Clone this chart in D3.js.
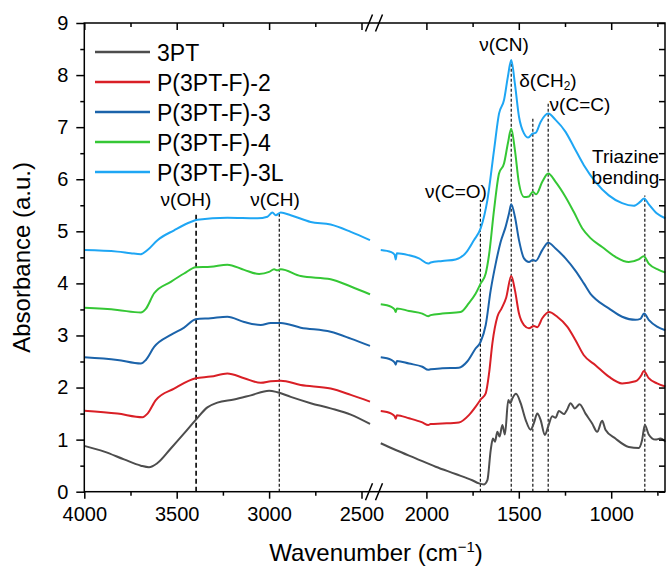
<!DOCTYPE html>
<html>
<head>
<meta charset="utf-8">
<script src="https://cdn.jsdelivr.net/npm/d3@7"></script>
<style>
  html, body { margin: 0; padding: 0; background: #fff; }
  svg { display: block; font-family: "Liberation Sans", Arial, sans-serif; }
</style>
</head>
<body>
<svg id="chart" width="667" height="566"></svg>
<script>
// ---------------- data (wavenumber cm-1, absorbance a.u.) ----------------
const seriesNames = ["3PT", "P(3PT-F)-2", "P(3PT-F)-3", "P(3PT-F)-4", "P(3PT-F)-3L"];
const seriesColors = ["#4d4d4d", "#d91f26", "#1b63aa", "#35c735", "#1ea6f4"];

const s3PT = [[4000,0.88],[3892,0.77],[3785,0.62],[3694,0.50],[3650,0.47],[3604,0.55],[3532,0.83],[3460,1.12],[3397,1.38],[3334,1.62],[3280,1.71],[3190,1.77],[3099,1.85],[3000,1.94],[2955,1.91],[2883,1.82],[2775,1.70],[2667,1.60],[2558,1.48],[2454,1.30],
  [2247,0.93],[2166,0.80],[2058,0.64],[1950,0.48],[1842,0.34],[1752,0.22],[1716,0.16],[1688,0.14],[1670,0.22],[1652,0.80],[1640,1.02],[1629,0.96],[1616,1.15],[1604,1.06],[1589,1.28],[1575,1.10],[1557,1.76],[1546,1.70],[1535,1.79],[1515,1.88],[1490,1.70],[1463,1.38],[1436,1.19],[1418,1.32],[1400,1.50],[1382,1.38],[1359,1.09],[1341,1.25],[1319,1.45],[1301,1.42],[1283,1.55],[1256,1.49],[1238,1.58],[1220,1.70],[1197,1.60],[1171,1.68],[1139,1.50],[1103,1.31],[1076,1.15],[1049,1.36],[1031,1.19],[977,1.02],[905,0.86],[851,0.84],[833,0.99],[818,1.28],[797,1.10],[761,1.00],[734,1.02],[707,0.96]];

const sF2 = [[4000,1.555],[3821,1.50],[3685,1.43],[3658,1.50],[3613,1.76],[3514,1.98],[3397,2.18],[3316,2.21],[3226,2.27],[3135,2.18],[3045,2.09],[2991,2.12],[2937,2.13],[2829,2.05],[2667,1.98],[2558,1.86],[2454,1.73],
  [2247,1.55],[2190,1.50],[2172,1.45],[2166,1.40],[2160,1.47],[2094,1.41],[2022,1.33],[1990,1.28],[1977,1.30],[1914,1.31],[1824,1.33],[1770,1.47],[1734,1.63],[1706,1.77],[1679,1.89],[1661,2.27],[1643,2.85],[1616,3.36],[1593,3.52],[1568,3.73],[1541,4.14],[1521,3.87],[1499,3.42],[1472,3.20],[1445,3.14],[1418,3.18],[1400,3.16],[1373,3.33],[1337,3.45],[1292,3.36],[1238,3.17],[1193,2.91],[1148,2.62],[1085,2.43],[1013,2.21],[941,2.08],[869,2.12],[836,2.24],[824,2.32],[797,2.18],[752,2.08],[707,2.02]];

const sF3 = [[4000,2.58],[3821,2.53],[3694,2.46],[3667,2.53],[3622,2.78],[3532,3.01],[3460,3.15],[3397,3.31],[3316,3.33],[3226,3.36],[3135,3.26],[3045,3.20],[2991,3.24],[2937,3.24],[2829,3.15],[2667,3.07],[2558,2.94],[2454,2.80],
  [2247,2.58],[2190,2.53],[2172,2.48],[2166,2.44],[2160,2.51],[2094,2.46],[2022,2.40],[1990,2.34],[1977,2.35],[1914,2.37],[1824,2.38],[1779,2.50],[1734,2.75],[1706,2.88],[1679,3.20],[1652,3.87],[1625,4.38],[1598,4.80],[1571,5.09],[1553,5.34],[1541,5.52],[1521,5.28],[1499,4.83],[1472,4.48],[1445,4.41],[1424,4.45],[1409,4.43],[1373,4.64],[1341,4.78],[1301,4.67],[1247,4.48],[1193,4.24],[1148,4.00],[1112,3.80],[1085,3.70],[1013,3.52],[941,3.36],[869,3.30],[842,3.32],[822,3.42],[797,3.30],[752,3.17],[707,3.10]];

const sF4 = [[4000,3.53],[3821,3.49],[3694,3.44],[3667,3.51],[3622,3.81],[3532,4.03],[3460,4.19],[3397,4.31],[3316,4.32],[3226,4.36],[3135,4.26],[3054,4.18],[3000,4.22],[2973,4.27],[2955,4.25],[2937,4.27],[2829,4.14],[2667,4.08],[2558,3.94],[2454,3.79],
  [2247,3.60],[2190,3.55],[2172,3.50],[2166,3.45],[2160,3.52],[2094,3.47],[2022,3.42],[1990,3.37],[1977,3.39],[1914,3.42],[1815,3.45],[1770,3.62],[1734,3.80],[1706,4.00],[1679,4.19],[1661,4.55],[1634,5.41],[1607,6.11],[1580,6.30],[1559,6.69],[1541,6.97],[1521,6.56],[1499,5.92],[1472,5.66],[1445,5.67],[1424,5.76],[1406,5.71],[1373,5.95],[1341,6.11],[1301,5.95],[1247,5.66],[1202,5.37],[1157,5.06],[1112,4.87],[1049,4.70],[977,4.51],[905,4.41],[851,4.46],[824,4.52],[797,4.38],[743,4.26],[707,4.21]];

const sF3L = [[4000,4.64],[3821,4.61],[3749,4.58],[3694,4.56],[3658,4.64],[3604,4.83],[3514,5.02],[3424,5.18],[3388,5.22],[3226,5.26],[3063,5.25],[3009,5.28],[2982,5.36],[2964,5.31],[2937,5.36],[2883,5.31],[2775,5.18],[2667,5.13],[2558,4.99],[2454,4.83],
  [2247,4.64],[2190,4.60],[2172,4.55],[2166,4.46],[2160,4.58],[2094,4.54],[2040,4.48],[1990,4.38],[1977,4.40],[1914,4.43],[1842,4.46],[1788,4.58],[1743,4.83],[1706,5.06],[1670,5.60],[1634,6.56],[1607,7.26],[1580,7.52],[1559,7.97],[1541,8.29],[1521,7.83],[1499,7.20],[1472,6.88],[1449,6.80],[1424,6.88],[1409,6.89],[1382,7.10],[1341,7.26],[1301,7.14],[1247,6.91],[1202,6.62],[1148,6.27],[1085,5.95],[1013,5.69],[941,5.54],[878,5.49],[842,5.57],[822,5.63],[797,5.52],[752,5.34],[707,5.25]];

const allSeries = [s3PT, sF2, sF3, sF4, sF3L];

// axis ticks
const yTicks = [0,1,2,3,4,5,6,7,8,9];
const yMinorTicks = [0.5,1.5,2.5,3.5,4.5,5.5,6.5,7.5,8.5];
const xMajorLeft = [4000,3500,3000,2500];
const xMinorLeft = [3750,3250,2750];
const xMajorRight = [2000,1500,1000];
const xMinorRight = [1750,1250,750];

// peak markers: position, top of dashed line (absorbance)
const peakWn = [3395, 2945, 1708, 1541, 1424, 1341, 818];
const peakTop = [5.35, 5.35, 5.60, 8.29, 7.20, 7.49, 5.69];
const peakThick = [true, false, false, false, false, false, false];

// annotation labels: text, wavenumber (centre), absorbance (baseline)
const labelText = ["ν(OH)", "ν(CH)", "ν(CN)", "δ(CH₂)", "ν(C=C)", "ν(C=O)", "Triazine", "bending"];
const labelWn = [3450, 2968, 1580, 1342, 1169, 1840, 923, 923];
const labelAbs = [5.48, 5.48, 8.46, 7.78, 7.31, 5.64, 6.32, 5.91];

// ---------------- layout ----------------
const svg = d3.select("#chart");
const X0 = 84.3, X1 = 665, Y0 = 491.7, Y1 = 23;
const k = 0.1848; // px per cm-1
const leftDom = [4000, 2450], rightDom = [2250, 712];
const xL = d3.scaleLinear().domain(leftDom).range([X0, X0 + (leftDom[0]-leftDom[1])*k]);
const xR = d3.scaleLinear().domain(rightDom).range([380.2, 380.2 + (rightDom[0]-rightDom[1])*k]);
const y = d3.scaleLinear().domain([0, 9]).range([Y0, Y1]);
const xAny = wn => wn >= 2350 ? xL(wn) : xR(wn);

const font = '"Liberation Sans", Arial, sans-serif';

// ---------------- dashed peak lines ----------------
const pk = svg.append("g");
peakWn.forEach((wn, i) => {
  pk.append("line")
    .attr("x1", xAny(wn)).attr("x2", xAny(wn))
    .attr("y1", y(0)).attr("y2", y(peakTop[i]))
    .attr("stroke", "#000")
    .attr("stroke-width", peakThick[i] ? 1.6 : 1.1)
    .attr("stroke-dasharray", peakThick[i] ? "5,3" : "3,2");
});

// ---------------- curves ----------------
const lineL = d3.line().x(d => xL(d[0])).y(d => y(d[1])).curve(d3.curveMonotoneX);
const lineR = d3.line().x(d => xR(d[0])).y(d => y(d[1])).curve(d3.curveMonotoneX);
const cg = svg.append("g");
allSeries.forEach((s, i) => {
  const left = s.filter(d => d[0] >= 2450);
  const right = s.filter(d => d[0] <= 2250);
  [ [left, lineL], [right, lineR] ].forEach(([dat, gen]) => {
    cg.append("path").attr("d", gen(dat))
      .attr("fill", "none").attr("stroke", seriesColors[i])
      .attr("stroke-width", 2).attr("stroke-linejoin", "round");
  });
});

// ---------------- axes ----------------
function styleAxis(g) {
  g.select(".domain").remove();
  g.selectAll("line").attr("stroke", "#000").attr("stroke-width", 1.5);
  g.selectAll("text").attr("font-family", font).attr("fill", "#000");
}
// bottom
svg.append("g").attr("transform", `translate(0,${Y0})`)
  .call(d3.axisBottom(xL).tickValues(xMajorLeft).tickSize(7).tickPadding(8).tickFormat(d3.format("d")))
  .call(styleAxis).selectAll("text").attr("font-size", 20);
svg.append("g").attr("transform", `translate(0,${Y0})`)
  .call(d3.axisBottom(xR).tickValues(xMajorRight).tickSize(7).tickPadding(8).tickFormat(d3.format("d")))
  .call(styleAxis).selectAll("text").attr("font-size", 20);
svg.append("g").attr("transform", `translate(0,${Y0})`)
  .call(d3.axisBottom(xL).tickValues(xMinorLeft).tickSize(4).tickFormat("")).call(styleAxis);
svg.append("g").attr("transform", `translate(0,${Y0})`)
  .call(d3.axisBottom(xR).tickValues(xMinorRight).tickSize(4).tickFormat("")).call(styleAxis);
// top (inward)
svg.append("g").attr("transform", `translate(0,${Y1})`)
  .call(d3.axisTop(xL).tickValues(xMajorLeft).tickSize(-7).tickFormat("")).call(styleAxis);
svg.append("g").attr("transform", `translate(0,${Y1})`)
  .call(d3.axisTop(xR).tickValues(xMajorRight).tickSize(-7).tickFormat("")).call(styleAxis);
svg.append("g").attr("transform", `translate(0,${Y1})`)
  .call(d3.axisTop(xL).tickValues(xMinorLeft).tickSize(-4).tickFormat("")).call(styleAxis);
svg.append("g").attr("transform", `translate(0,${Y1})`)
  .call(d3.axisTop(xR).tickValues(xMinorRight).tickSize(-4).tickFormat("")).call(styleAxis);
// left
svg.append("g").attr("transform", `translate(${X0},0)`)
  .call(d3.axisLeft(y).tickValues(yTicks).tickSize(8).tickPadding(8).tickFormat(d3.format("d")))
  .call(styleAxis).selectAll("text").attr("font-size", 20);
svg.append("g").attr("transform", `translate(${X0},0)`)
  .call(d3.axisLeft(y).tickValues(yMinorTicks).tickSize(4).tickFormat("")).call(styleAxis);
// right (inward)
svg.append("g").attr("transform", `translate(${X1},0)`)
  .call(d3.axisRight(y).tickValues(yTicks.concat(yMinorTicks)).tickSize(-6).tickFormat("")).call(styleAxis);

// frame
svg.append("rect").attr("x", X0).attr("y", Y1).attr("width", X1 - X0).attr("height", Y0 - Y1)
  .attr("fill", "none").attr("stroke", "#000").attr("stroke-width", 1.5);

// axis break marks
[Y0, Y1].forEach(yy => {
  [369, 379].forEach(cx => {
    svg.append("line").attr("x1", cx - 3.5).attr("y1", yy + 8.5).attr("x2", cx + 3.5).attr("y2", yy - 8.5)
      .attr("stroke", "#000").attr("stroke-width", 1.5);
  });
});

// ---------------- axis titles ----------------
svg.append("text").attr("transform", `translate(30,${(Y0+Y1)/2}) rotate(-90)`)
  .attr("text-anchor", "middle").attr("font-family", font).attr("font-size", 24)
  .text("Absorbance (a.u.)");
const xt = svg.append("text").attr("x", 376).attr("y", 561).attr("text-anchor", "middle")
  .attr("font-family", font).attr("font-size", 24);
xt.append("tspan").text("Wavenumber (cm");
xt.append("tspan").attr("dy", -9).attr("font-size", 15).text("−1");
xt.append("tspan").attr("dy", 9).text(")");

// ---------------- annotations ----------------
labelText.forEach((t, i) => {
  const tx = svg.append("text").attr("x", xAny(labelWn[i])).attr("y", y(labelAbs[i]))
    .attr("text-anchor", "middle").attr("font-family", font).attr("font-size", 19).attr("fill", "#000");
  if (t.includes("₂")) {
    tx.append("tspan").text("δ(CH");
    tx.append("tspan").attr("dy", 3).attr("font-size", 12).text("2");
    tx.append("tspan").attr("dy", -3).text(")");
  } else {
    tx.text(t);
  }
});

// ---------------- legend ----------------
const lg = svg.append("g");
seriesNames.forEach((n, i) => {
  const cy = 52 + i * 30;
  lg.append("line").attr("x1", 95).attr("x2", 150).attr("y1", cy).attr("y2", cy)
    .attr("stroke", seriesColors[i]).attr("stroke-width", 2.5);
  lg.append("text").attr("x", 157).attr("y", cy + 8.5).attr("font-family", font)
    .attr("font-size", 23).attr("fill", "#000").text(n);
});
</script>
</body>
</html>
